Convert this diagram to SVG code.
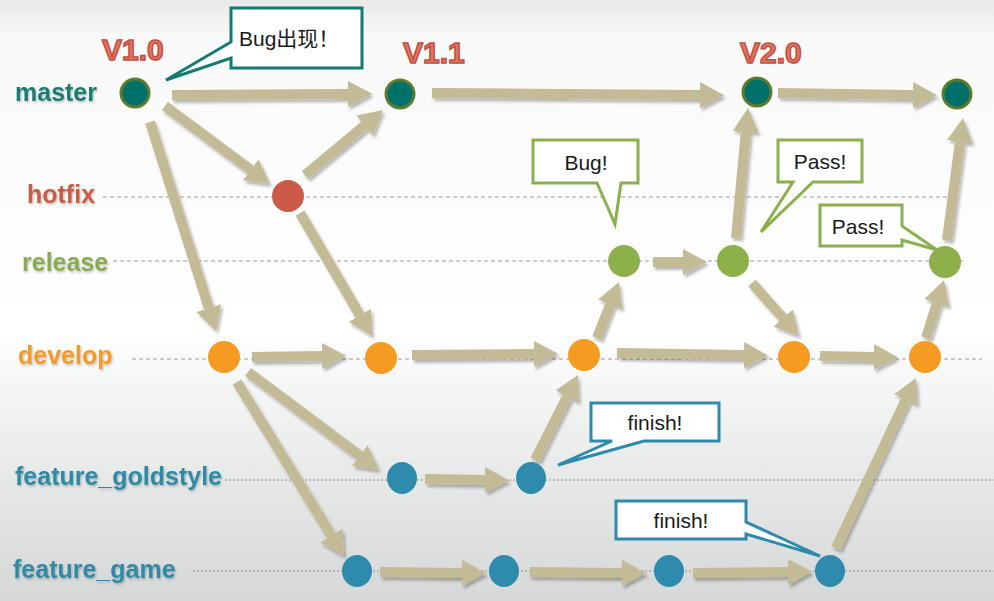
<svg xmlns="http://www.w3.org/2000/svg" width="994" height="601" viewBox="0 0 994 601">
  <defs>
    <linearGradient id="bg" x1="0" y1="0" x2="0" y2="1">
      <stop offset="0" stop-color="#e9e9e9"/>
      <stop offset="0.06" stop-color="#f9f9f9"/>
      <stop offset="0.55" stop-color="#ffffff"/>
      <stop offset="0.66" stop-color="#f3f4f4"/>
      <stop offset="1" stop-color="#d5d8d7"/>
    </linearGradient>
    <marker id="ah" markerUnits="userSpaceOnUse" markerWidth="24" markerHeight="26" viewBox="0 0 24 26" refX="0" refY="13" orient="auto">
      <path d="M0,0 L24,13 L0,26 Z" fill="#c3bb95"/>
    </marker>
    <filter id="sh" x="-10%" y="-10%" width="130%" height="130%">
      <feDropShadow dx="2" dy="3" stdDeviation="1.8" flood-color="#000" flood-opacity="0.28"/>
    </filter>
    <filter id="tsh" x="-5%" y="-20%" width="115%" height="150%">
      <feDropShadow dx="1" dy="1.5" stdDeviation="1" flood-color="#000" flood-opacity="0.25"/>
    </filter>
    <style>
      .arr { stroke:#c3bb95; stroke-width:10; fill:none; marker-end:url(#ah); }
      .lane { font-family:"Liberation Sans", Arial, sans-serif; font-weight:bold; font-size:25px; }
      .ver { font-family:"Liberation Sans", Arial, sans-serif; font-weight:bold; font-size:30px; fill:#e07565; stroke:#c44e3c; stroke-width:1.5; }
      .dash { stroke:#9a9a9a; stroke-width:1; stroke-dasharray:4 3; }
      .dot { stroke:#8a8f90; stroke-width:1; stroke-dasharray:2 2; }
      .call { fill:#ffffff; stroke-width:3; stroke-linejoin:miter; }
      .ct { font-family:"Liberation Sans", "Noto Sans CJK SC", sans-serif; font-size:21px; fill:#1a1a1a; text-anchor:middle; }
      .m { fill:#00706a; stroke:#5d7b2f; stroke-width:3; }
      .h { fill:#cd5a48; }
      .r { fill:#8db04a; }
      .d { fill:#f59b22; }
      .f { fill:#2e8bad; }
    </style>
  </defs>

  <rect x="0" y="0" width="994" height="601" fill="url(#bg)"/>

  <g id="lanes">
    <line class="dash" x1="103" y1="197" x2="948" y2="197"/>
    <line class="dash" x1="113" y1="261" x2="963" y2="261"/>
    <line class="dash" x1="132" y1="359" x2="982" y2="359"/>
    <line class="dot" x1="225" y1="480" x2="994" y2="480"/>
    <line class="dot" x1="193" y1="571" x2="994" y2="571"/>
  </g>

  <g id="lane-labels" filter="url(#tsh)">
    <text class="lane" x="15" y="101" fill="#1b7b72">master</text>
    <text class="lane" x="27" y="203" fill="#c95b45">hotfix</text>
    <text class="lane" x="22" y="271" fill="#8bab52">release</text>
    <text class="lane" x="18" y="364" fill="#f39b2a">develop</text>
    <text class="lane" x="15" y="485" fill="#2f8aa6">feature_goldstyle</text>
    <text class="lane" x="13" y="578" fill="#2f8aa6">feature_game</text>
  </g>

  <g id="versions">
    <text class="ver" x="102" y="60">V1.0</text>
    <text class="ver" x="403" y="63">V1.1</text>
    <text class="ver" x="740" y="63">V2.0</text>
  </g>

  <g id="connectors" filter="url(#sh)">
    <line class="arr" x1="172" y1="95" x2="348" y2="94"/>
    <line class="arr" x1="432" y1="93" x2="700" y2="95"/>
    <line class="arr" x1="778" y1="93" x2="913" y2="95"/>
    <line class="arr" x1="165" y1="106" x2="250.7" y2="169.7"/>
    <line class="arr" x1="305" y1="175" x2="364.6" y2="125.4"/>
    <line class="arr" x1="150" y1="122" x2="208.8" y2="308.1"/>
    <line class="arr" x1="300" y1="213" x2="359.9" y2="315.3"/>
    <line class="arr" x1="252" y1="357" x2="322" y2="356"/>
    <line class="arr" x1="412" y1="355" x2="534" y2="354"/>
    <line class="arr" x1="597" y1="338" x2="610.2" y2="304.3"/>
    <line class="arr" x1="653" y1="262" x2="683" y2="262"/>
    <line class="arr" x1="736" y1="238" x2="745.8" y2="131.9"/>
    <line class="arr" x1="752" y1="283" x2="783.1" y2="318"/>
    <line class="arr" x1="617" y1="353" x2="744" y2="355"/>
    <line class="arr" x1="820" y1="356" x2="874" y2="357"/>
    <line class="arr" x1="926" y1="338" x2="936.9" y2="302.9"/>
    <line class="arr" x1="947" y1="240" x2="959.9" y2="141.8"/>
    <line class="arr" x1="248" y1="372" x2="359.8" y2="455.6"/>
    <line class="arr" x1="237" y1="382" x2="331.4" y2="535.6"/>
    <line class="arr" x1="425" y1="479" x2="485" y2="480"/>
    <line class="arr" x1="535" y1="460" x2="567.2" y2="396.4"/>
    <line class="arr" x1="380" y1="572" x2="462" y2="573"/>
    <line class="arr" x1="530" y1="572" x2="622" y2="573"/>
    <line class="arr" x1="693" y1="573" x2="788" y2="572"/>
    <line class="arr" x1="836" y1="548" x2="905.8" y2="399.7"/>
  </g>

  <g id="master-1"><circle class="m" cx="135" cy="93" r="14"/></g>
  <g id="master-2"><circle class="m" cx="400" cy="94" r="14"/></g>
  <g id="master-3"><circle class="m" cx="757" cy="92" r="14"/></g>
  <g id="master-4"><circle class="m" cx="957" cy="94" r="14"/></g>
  <g id="hotfix-1"><circle class="h" cx="288" cy="196" r="16"/></g>
  <g id="release-1"><circle class="r" cx="624" cy="261" r="16"/></g>
  <g id="release-2"><circle class="r" cx="733" cy="261" r="16"/></g>
  <g id="release-3"><circle class="r" cx="945" cy="262" r="16"/></g>
  <g id="develop-1"><circle class="d" cx="224" cy="357" r="16"/></g>
  <g id="develop-2"><circle class="d" cx="381" cy="358" r="16"/></g>
  <g id="develop-3"><circle class="d" cx="584" cy="355" r="16"/></g>
  <g id="develop-4"><circle class="d" cx="794" cy="357" r="16"/></g>
  <g id="develop-5"><circle class="d" cx="925" cy="357" r="16"/></g>
  <g id="goldstyle-1"><ellipse class="f" cx="402" cy="478" rx="15" ry="16"/></g>
  <g id="goldstyle-2"><ellipse class="f" cx="531" cy="478" rx="15" ry="16"/></g>
  <g id="game-1"><ellipse class="f" cx="357" cy="571" rx="15" ry="16"/></g>
  <g id="game-2"><ellipse class="f" cx="504" cy="571" rx="15" ry="16"/></g>
  <g id="game-3"><ellipse class="f" cx="669" cy="571" rx="15" ry="16"/></g>
  <g id="game-4"><ellipse class="f" cx="830" cy="571" rx="15" ry="16"/></g>

  <g id="callout-bug-master">
    <path class="call" stroke="#137b74" d="M231,8 H362 V68 H231 V58 L166,80 L231,42 Z"/>
    <text class="ct" x="239" y="46" text-anchor="start" style="text-anchor:start" font-size="20">Bug出现！</text>
  </g>
  <g id="callout-bug-release">
    <path class="call" stroke="#8ab04a" d="M533,140 H638 V183 H621 L615,224 L597,183 H533 Z"/>
    <text class="ct" x="586" y="170">Bug!</text>
  </g>
  <g id="callout-pass-1">
    <path class="call" stroke="#8ab04a" d="M778,140 H862 V182 H813 L761,232 L793,182 H778 Z"/>
    <text class="ct" x="820" y="169">Pass!</text>
  </g>
  <g id="callout-pass-2">
    <path class="call" stroke="#8ab04a" d="M820,205 H902 V226 L937,250 L902,240 V246 H820 Z"/>
    <text class="ct" x="858" y="234">Pass!</text>
  </g>
  <g id="callout-finish-gold">
    <path class="call" stroke="#2d8aab" d="M591,403 H719 V441 H644 L558,465 L612,441 H591 Z"/>
    <text class="ct" x="655" y="430">finish!</text>
  </g>
  <g id="callout-finish-game">
    <path class="call" stroke="#2d8aab" d="M616,501 H746 V522 L820,556 L746,534 V539 H616 Z"/>
    <text class="ct" x="681" y="528">finish!</text>
  </g>
</svg>
